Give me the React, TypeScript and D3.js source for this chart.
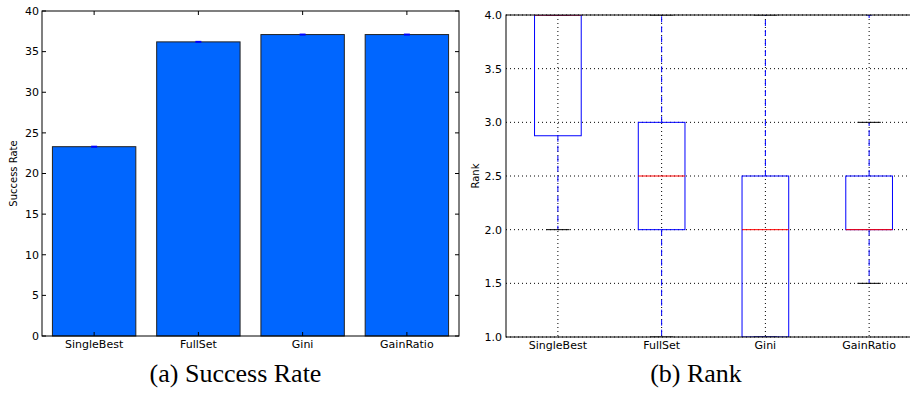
import React, { useEffect, useRef } from 'react';
import * as d3 from 'd3';

// categories shared by both panels
const categories = ['SingleBest', 'FullSet', 'Gini', 'GainRatio'];

// (a) success rate bars
const successRate = [23.3, 36.2, 37.1, 37.1];
const successErr = [0.1, 0.05, 0.05, 0.05];
const successTicks = [0, 5, 10, 15, 20, 25, 30, 35, 40];

// (b) rank box plot stats
const rankQ1 = [2.875, 2.0, 1.0, 2.0];
const rankMedian = [4.0, 2.5, 2.0, 2.0];
const rankQ3 = [4.0, 3.0, 2.5, 2.5];
const rankWhiskerLow = [2.0, 1.0, 1.0, 1.5];
const rankWhiskerHigh = [4.0, 4.0, 4.0, 3.0];
const rankFliers = [[], [], [], [4.0]];
const rankTicks = [1.0, 1.5, 2.0, 2.5, 3.0, 3.5, 4.0];

const W = 910, H = 394;
const tickFont = 'DejaVu Sans, sans-serif';
const captionFont = 'Liberation Serif, serif';

const App = () => {
  const ref = useRef<SVGSVGElement>(null);

  useEffect(() => {
    const svg = d3.select(ref.current);
    svg.selectAll('*').remove();

    // ---------- left panel: bar chart ----------
    const a = { left: 42, right: 459, top: 11, bottom: 336 };
    const x = d3.scaleBand().domain(categories).range([a.left, a.right])
      .paddingInner(0.2).paddingOuter(0.1);
    const y = d3.scaleLinear().domain([0, 40]).range([a.bottom, a.top]);
    const gA = svg.append('g');

    gA.selectAll('rect.bar')
      .data(categories)
      .enter().append('rect')
        .attr('class', 'bar')
        .attr('x', d => x(d)!)
        .attr('y', (d, i) => y(successRate[i]))
        .attr('width', x.bandwidth())
        .attr('height', (d, i) => a.bottom - y(successRate[i]))
        .attr('fill', '#0066ff')
        .attr('stroke', '#222')
        .attr('stroke-width', 1);

    // tiny error bars
    gA.selectAll('rect.err')
      .data(categories)
      .enter().append('rect')
        .attr('x', d => x(d)! + x.bandwidth() / 2 - 3)
        .attr('y', (d, i) => Math.min(y(successRate[i] + successErr[i]), y(successRate[i]) - 1))
        .attr('width', 6)
        .attr('height', (d, i) => Math.max(y(successRate[i] - successErr[i]) - y(successRate[i] + successErr[i]), 2))
        .attr('fill', '#0000ff');

    // frame
    gA.append('rect')
      .attr('x', a.left).attr('y', a.top)
      .attr('width', a.right - a.left).attr('height', a.bottom - a.top)
      .attr('fill', 'none').attr('stroke', '#000').attr('stroke-width', 1);

    // ticks (inward on all sides)
    successTicks.forEach(t => {
      gA.append('line').attr('x1', a.left).attr('x2', a.left + 4)
        .attr('y1', y(t)).attr('y2', y(t)).attr('stroke', '#000');
      gA.append('line').attr('x1', a.right).attr('x2', a.right - 4)
        .attr('y1', y(t)).attr('y2', y(t)).attr('stroke', '#000');
      gA.append('text').attr('x', a.left - 3).attr('y', y(t))
        .attr('dy', '0.35em').attr('text-anchor', 'end')
        .attr('font-family', tickFont).attr('font-size', 11)
        .text(t);
    });
    categories.forEach(c => {
      const cx = x(c)! + x.bandwidth() / 2;
      gA.append('line').attr('x1', cx).attr('x2', cx)
        .attr('y1', a.bottom).attr('y2', a.bottom - 4).attr('stroke', '#000');
      gA.append('line').attr('x1', cx).attr('x2', cx)
        .attr('y1', a.top).attr('y2', a.top + 4).attr('stroke', '#000');
      gA.append('text').attr('x', cx).attr('y', 347.5)
        .attr('text-anchor', 'middle')
        .attr('font-family', tickFont).attr('font-size', 11)
        .text(c);
    });

    gA.append('text')
      .attr('transform', `translate(17,${(a.top + a.bottom) / 2}) rotate(-90)`)
      .attr('text-anchor', 'middle')
      .attr('font-family', tickFont).attr('font-size', 10)
      .text('Success Rate');

    // ---------- right panel: box plot ----------
    const b = { left: 506, right: 921, top: 15, bottom: 337 };
    const xb = d3.scaleBand().domain(categories).range([b.left, b.right]);
    const yb = d3.scaleLinear().domain([1, 4]).range([b.bottom, b.top]);
    const boxW = xb.bandwidth() * 0.45;
    const capW = boxW / 2;

    svg.append('defs').append('clipPath').attr('id', 'clipB')
      .append('rect')
        .attr('x', b.left).attr('y', b.top)
        .attr('width', b.right - b.left).attr('height', b.bottom - b.top);

    const gB = svg.append('g');

    // dotted grid
    rankTicks.forEach(t => {
      gB.append('line').attr('x1', b.left).attr('x2', b.right)
        .attr('y1', yb(t)).attr('y2', yb(t))
        .attr('stroke', '#000').attr('stroke-dasharray', '1,3');
      gB.append('text').attr('x', b.left - 4).attr('y', yb(t))
        .attr('dy', '0.35em').attr('text-anchor', 'end')
        .attr('font-family', tickFont).attr('font-size', 11)
        .text(d3.format('.1f')(t));
    });
    categories.forEach(c => {
      const cx = xb(c)! + xb.bandwidth() / 2;
      gB.append('line').attr('x1', cx).attr('x2', cx)
        .attr('y1', b.top).attr('y2', b.bottom)
        .attr('stroke', '#000').attr('stroke-dasharray', '1,3');
      gB.append('text').attr('x', cx).attr('y', 348.5)
        .attr('text-anchor', 'middle')
        .attr('font-family', tickFont).attr('font-size', 11)
        .text(c);
    });

    const marks = gB.append('g').attr('clip-path', 'url(#clipB)');
    categories.forEach((c, i) => {
      const cx = xb(c)! + xb.bandwidth() / 2;
      // whiskers
      marks.append('line').attr('x1', cx).attr('x2', cx)
        .attr('y1', yb(rankQ3[i])).attr('y2', yb(rankWhiskerHigh[i]))
        .attr('stroke', '#0000ff').attr('stroke-dasharray', '6,4');
      marks.append('line').attr('x1', cx).attr('x2', cx)
        .attr('y1', yb(rankQ1[i])).attr('y2', yb(rankWhiskerLow[i]))
        .attr('stroke', '#0000ff').attr('stroke-dasharray', '6,4');
      // caps
      [rankWhiskerLow[i], rankWhiskerHigh[i]].forEach(v => {
        marks.append('line').attr('x1', cx - capW / 2).attr('x2', cx + capW / 2)
          .attr('y1', yb(v)).attr('y2', yb(v)).attr('stroke', '#000');
      });
      // box
      marks.append('rect')
        .attr('x', cx - boxW / 2).attr('y', yb(rankQ3[i]))
        .attr('width', boxW).attr('height', yb(rankQ1[i]) - yb(rankQ3[i]))
        .attr('fill', 'none').attr('stroke', '#0000ff');
      // median
      marks.append('line').attr('x1', cx - boxW / 2).attr('x2', cx + boxW / 2)
        .attr('y1', yb(rankMedian[i])).attr('y2', yb(rankMedian[i]))
        .attr('stroke', '#ff0000');
      // fliers
      rankFliers[i].forEach(v => {
        marks.append('path')
          .attr('d', `M${cx - 3},${yb(v)}H${cx + 3}M${cx},${yb(v) - 3}V${yb(v) + 3}`)
          .attr('stroke', '#0000ff');
      });
    });

    gB.append('rect')
      .attr('x', b.left).attr('y', b.top)
      .attr('width', b.right - b.left).attr('height', b.bottom - b.top)
      .attr('fill', 'none').attr('stroke', '#000').attr('stroke-width', 1);

    gB.append('text')
      .attr('transform', `translate(479,${(b.top + b.bottom) / 2}) rotate(-90)`)
      .attr('text-anchor', 'middle')
      .attr('font-family', tickFont).attr('font-size', 10)
      .text('Rank');

    // captions
    svg.append('text').attr('x', 235.5).attr('y', 382)
      .attr('text-anchor', 'middle')
      .attr('font-family', captionFont).attr('font-size', 26)
      .text('(a) Success Rate');
    svg.append('text').attr('x', 696).attr('y', 382)
      .attr('text-anchor', 'middle')
      .attr('font-family', captionFont).attr('font-size', 26)
      .text('(b) Rank');
  }, []);

  return (
    <svg ref={ref} width={W} height={H}
      style={{ position: 'absolute', left: 0, top: 0, background: '#fff', overflow: 'hidden' }} />
  );
};

export default App;
